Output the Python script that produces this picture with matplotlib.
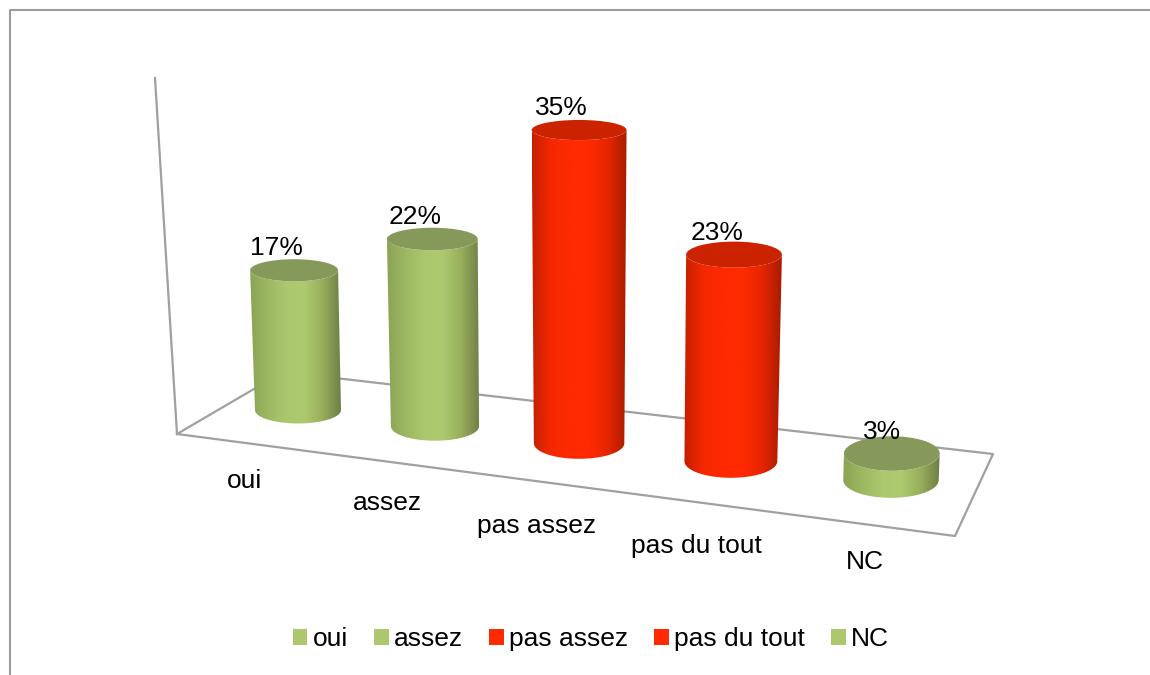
import numpy as np
import matplotlib
matplotlib.use('Agg')
import matplotlib.pyplot as plt
from matplotlib.colors import LinearSegmentedColormap
from matplotlib.patches import Ellipse, Patch, PathPatch
from matplotlib.path import Path

categories = ['oui', 'assez', 'pas assez', 'pas du tout', 'NC']
values = [17, 22, 35, 23, 3]
groups = ['green', 'green', 'red', 'red', 'green']

# gradient stops left to right, lid colour, swatch colour
green_stops = ['#8AA355', '#9DB862', '#ABC86E', '#ADCA6F', '#98AE5C', '#6E7F45']
red_stops = ['#C42000', '#F52800', '#FF2A00', '#FF2A00', '#E62500', '#A81C00']
lids = {'green': '#87995A', 'red': '#CB2200'}
swatches = {'green': '#ACC76E', 'red': '#FF2A00'}
ramps = {'green': LinearSegmentedColormap.from_list('g', green_stops),
         'red': LinearSegmentedColormap.from_list('r', red_stops)}

tick_x = [245, 387, 537, 696, 865]
tick_y = [481, 503, 526, 546, 562]

plt.rcParams['font.family'] = ['Liberation Sans', 'DejaVu Sans']
FS = 19
GREY = '#A0A0A0'

fig = plt.figure(figsize=(11.5, 6.75), dpi=100)
ax = fig.add_axes([0, 0, 1, 1])
gradient = np.linspace(0, 1, 256).reshape(1, -1)


def project(i, value):
    # perspective of the floor, then of the height
    w = 1 / (1 - 0.0247 * i)
    x0 = 298 + 133.6 * i * w
    y0 = 410 + 15.8 * i * w
    h = 7.95 * value * w * (1 + 0.002 * value)
    x1 = x0 + h * (x0 - 578) * 1e-4
    y1 = y0 - h
    r0 = 43 * w
    r1 = r0 + h * 0.007
    return x0, y0, r0, x1, y1, r1


def squash(y, i):
    return 6.3 + 0.0175 * y + 0.75 * i


def cylinder(i, value, group):
    x0, y0, r0, x1, y1, r1 = project(i, value)
    ry0 = squash(y0, i)
    ry1 = squash(y1, i)
    t = np.linspace(np.pi, 0, 60)
    low = np.column_stack([x0 + r0 * np.cos(t), y0 + ry0 * np.sin(t)])
    up = np.column_stack([x1 + r1 * np.cos(t), y1 + ry1 * np.sin(t)])[::-1]
    outline = np.vstack([low, up, low[:1]])
    left = min(x0 - r0, x1 - r1)
    right = max(x0 + r0, x1 + r1)
    img = ax.imshow(gradient, cmap=ramps[group], aspect='auto', zorder=3 + i,
                    extent=(left, right, y0 + ry0 + 1, y1 - ry1 - 1))
    img.set_clip_path(PathPatch(Path(outline), transform=ax.transData))
    ax.add_patch(Ellipse((x1, y1), 2 * r1, 2 * ry1, fc=lids[group], ec='none', zorder=3.5 + i))
    ax.text(x1 + 9, y1 - 22, f'{value}%', fontsize=FS, ha='right', va='center', zorder=20)


# chart area border
ax.plot([10, 10, 1150], [675, 10, 10], color='#9C9C9C', lw=1.5, zorder=1)
# wall edge and floor
ax.plot([155, 177], [78, 434], color=GREY, lw=1.6, zorder=1)
ax.plot([177, 283, 993, 955, 177], [434, 372, 454, 536, 434], color=GREY, lw=1.6, zorder=1)

for i in range(len(values)):
    cylinder(i, values[i], groups[i])

for i in range(len(categories)):
    ax.text(tick_x[i], tick_y[i], categories[i], fontsize=FS, ha='center', va='center')

handles = [Patch(fc=swatches[g], ec='none', label=c) for c, g in zip(categories, groups)]
fig.legend(handles=handles, loc='center', bbox_to_anchor=(591 / 1150, 1 - 639 / 675), ncol=5,
           frameon=False, fontsize=FS, handlelength=0.54, handleheight=0.54,
           handletextpad=0.2, columnspacing=1.0, borderpad=0, labelspacing=0)

ax.set_xlim(0, 1150)
ax.set_ylim(675, 0)
ax.axis('off')
fig.savefig('out.png', dpi=100)
